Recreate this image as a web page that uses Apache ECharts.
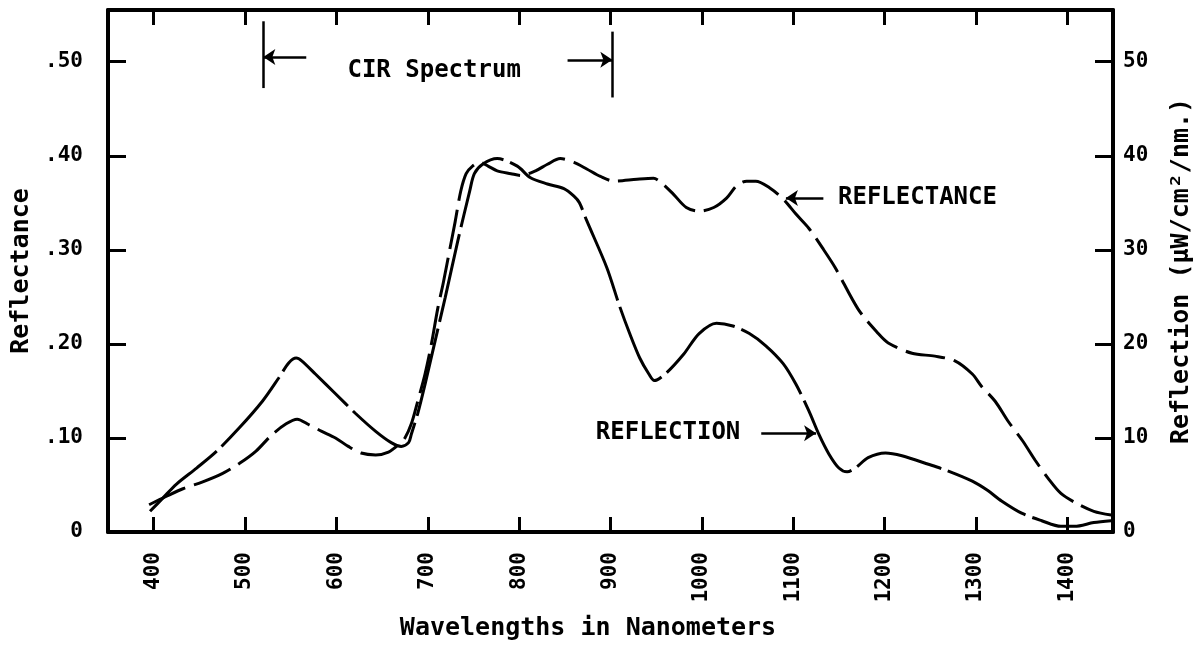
<!DOCTYPE html>
<html>
<head>
<meta charset="utf-8">
<script src="https://cdn.jsdelivr.net/npm/echarts@6/dist/echarts.min.js"></script>
<style>
  html, body { margin: 0; padding: 0; background: #fff; }
  #chart { width: 1202px; height: 649px; }
</style>
</head>
<body>
<div id="chart"></div>
<script>
// reflectance curve, left axis (fraction)
var reflectanceNm = [395, 414, 432, 453, 475, 494, 512, 529, 545, 557, 570, 584, 599, 613, 627, 643, 657, 668, 675, 682, 689, 697, 704, 711, 717, 724, 730, 736, 742, 749, 757, 766, 776, 791, 802, 818, 831, 845, 860, 874, 889, 904, 929, 947, 956, 969, 983, 997, 1013, 1027, 1038, 1049, 1059, 1074, 1089, 1103, 1117, 1132, 1146, 1171, 1193, 1204, 1230, 1255, 1277, 1296, 1306, 1321, 1335, 1351, 1365, 1379, 1393, 1411, 1429, 1448]
var reflectanceVal = [0.029, 0.038, 0.046, 0.053, 0.062, 0.073, 0.086, 0.103, 0.115, 0.120, 0.114, 0.107, 0.100, 0.091, 0.084, 0.082, 0.085, 0.093, 0.100, 0.115, 0.139, 0.168, 0.200, 0.238, 0.265, 0.300, 0.330, 0.362, 0.381, 0.389, 0.393, 0.389, 0.384, 0.381, 0.379, 0.384, 0.391, 0.397, 0.393, 0.386, 0.378, 0.373, 0.375, 0.376, 0.371, 0.359, 0.345, 0.341, 0.345, 0.355, 0.368, 0.373, 0.373, 0.366, 0.354, 0.338, 0.323, 0.302, 0.281, 0.237, 0.211, 0.201, 0.190, 0.187, 0.182, 0.168, 0.155, 0.139, 0.118, 0.097, 0.076, 0.057, 0.041, 0.030, 0.022, 0.018]

// reflection curve, right axis (uW/cm2/nm)
var reflectionNm = [396, 410, 425, 447, 469, 494, 519, 537, 548, 556, 562, 577, 599, 621, 643, 660, 671, 679, 682, 689, 697, 708, 719, 733, 746, 751, 760, 776, 798, 812, 831, 849, 860, 866, 874, 896, 910, 921, 932, 942, 948, 961, 980, 997, 1016, 1034, 1052, 1070, 1089, 1103, 1117, 1128, 1139, 1150, 1159, 1168, 1182, 1201, 1219, 1248, 1269, 1296, 1313, 1328, 1350, 1372, 1393, 1408, 1429, 1448]
var reflectionVal = [2.2, 3.6, 5.1, 6.8, 8.6, 11.1, 13.9, 16.4, 18.0, 18.5, 18.2, 16.8, 14.7, 12.6, 10.7, 9.5, 9.1, 9.5, 10.4, 12.6, 15.7, 20.3, 24.9, 31.0, 36.3, 38.1, 39.1, 39.7, 38.9, 37.7, 37.0, 36.5, 35.7, 35.0, 33.1, 28.1, 24.0, 21.1, 18.5, 16.8, 16.1, 16.9, 18.9, 21.1, 22.2, 21.9, 21.1, 19.8, 17.9, 15.7, 12.9, 10.4, 8.3, 6.8, 6.4, 6.8, 7.9, 8.4, 8.1, 7.2, 6.5, 5.4, 4.4, 3.3, 2.0, 1.2, 0.6, 0.6, 1.0, 1.2]

var xTicks = [400, 500, 600, 700, 800, 900, 1000, 1100, 1200, 1300, 1400]
var leftTicks = [0, 0.1, 0.2, 0.3, 0.4, 0.5]
var rightTicks = [0, 10, 20, 30, 40, 50]
var cirRange = [520, 902]

var chart = echarts.init(document.getElementById('chart'))

var font = 'DejaVu Sans Mono'
var black = '#000'

function toPairs(xs, ys) {
  return xs.map(function (x, i) { return [x, ys[i]] })
}

var axisLine = { show: true, onZero: false, lineStyle: { color: black, width: 4 } }
var labelStyle = { color: black, fontFamily: font, fontWeight: 'bold', fontSize: 21 }
var nameStyle = { color: black, fontFamily: font, fontWeight: 'bold', fontSize: 25 }
var annStyle = { color: black, fontFamily: font, fontWeight: 'bold', fontSize: 24 }
var markLs = { type: 'solid', color: black, width: 2.5 }

chart.setOption({
  animation: false,
  backgroundColor: '#fff',
  grid: { left: 108, right: 83, top: 10, bottom: 117 },
  xAxis: [
    {
      type: 'value', position: 'bottom', min: 350, max: 1450,
      axisLine: axisLine,
      axisTick: { show: true, inside: true, length: 15, customValues: xTicks, lineStyle: { color: black, width: 3 } },
      axisLabel: Object.assign({
        customValues: xTicks, rotate: 90, margin: 20,
        formatter: function (v) { return String(v) }
      }, labelStyle),
      splitLine: { show: false },
      name: 'Wavelengths in Nanometers',
      nameLocation: 'middle',
      nameGap: 84,
      nameTextStyle: Object.assign({ padding: [0, 45, 0, 0] }, nameStyle)
    },
    {
      type: 'value', position: 'top', min: 350, max: 1450,
      axisLine: axisLine,
      axisTick: { show: true, inside: true, length: 15, customValues: xTicks, lineStyle: { color: black, width: 3 } },
      axisLabel: { show: false },
      splitLine: { show: false }
    }
  ],
  yAxis: [
    {
      type: 'value', position: 'left', min: 0, max: 0.555,
      axisLine: axisLine,
      axisTick: { show: true, inside: true, length: 18, customValues: leftTicks, lineStyle: { color: black, width: 3 } },
      axisLabel: Object.assign({
        customValues: leftTicks, margin: 25, padding: [0, 0, 8, 0],
        formatter: function (v) { return v === 0 ? '0' : '.' + Math.round(v * 100) }
      }, labelStyle),
      splitLine: { show: false },
      name: 'Reflectance',
      nameLocation: 'middle',
      nameGap: 73,
      nameTextStyle: nameStyle
    },
    {
      type: 'value', position: 'right', min: 0, max: 55.5,
      axisLine: axisLine,
      axisTick: { show: true, inside: true, length: 18, customValues: rightTicks, lineStyle: { color: black, width: 3 } },
      axisLabel: Object.assign({ customValues: rightTicks, margin: 10, padding: [0, 0, 8, 0] }, labelStyle),
      splitLine: { show: false },
      name: 'Reflection (µW/cm²/nm.)',
      nameLocation: 'middle',
      nameGap: 56,
      nameTextStyle: nameStyle
    }
  ],
  series: [
    {
      name: 'Reflectance',
      type: 'line',
      xAxisIndex: 0,
      yAxisIndex: 0,
      data: toPairs(reflectanceNm, reflectanceVal),
      smooth: 0.3,
      symbol: 'none',
      lineStyle: { color: black, width: 3, type: [40, 9] },
      markLine: {
        silent: true,
        symbol: ['none', 'arrow'],
        symbolSize: 12,
        label: { show: false },
        lineStyle: markLs,
        data: [
          [{ coord: [cirRange[0], 0.543], symbol: 'none' }, { coord: [cirRange[0], 0.472], symbol: 'none' }],
          [{ coord: [cirRange[1], 0.532], symbol: 'none' }, { coord: [cirRange[1], 0.462], symbol: 'none' }],
          [{ coord: [567, 0.505] }, { coord: [cirRange[0], 0.505] }],
          [{ coord: [853, 0.502] }, { coord: [cirRange[1], 0.502] }],
          [{ coord: [1133, 0.355] }, { coord: [1092, 0.355] }],
          [{ coord: [1065, 0.105] }, { coord: [1125, 0.105] }]
        ]
      },
      markPoint: {
        silent: true,
        symbol: 'circle',
        symbolSize: 1,
        itemStyle: { color: 'rgba(0,0,0,0)' },
        label: Object.assign({ show: true, position: 'inside', formatter: '{b}' }, annStyle),
        data: [
          { name: 'CIR Spectrum', coord: [707, 0.490] },
          { name: 'REFLECTANCE', coord: [1236, 0.355] },
          { name: 'REFLECTION', coord: [963, 0.105] }
        ]
      }
    },
    {
      name: 'Reflection',
      type: 'line',
      xAxisIndex: 0,
      yAxisIndex: 1,
      data: toPairs(reflectionNm, reflectionVal),
      smooth: 0.3,
      symbol: 'none',
      lineStyle: { color: black, width: 3, type: [90, 7] }
    }
  ]
})
</script>
</body>
</html>
